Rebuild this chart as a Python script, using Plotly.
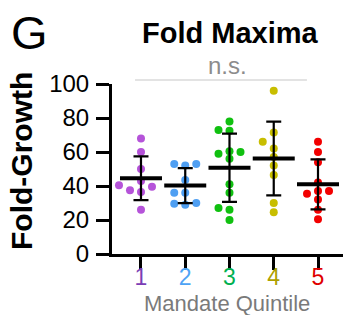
import numpy as np
import plotly.graph_objects as go

# ---------------- data ----------------
quintiles = [1, 2, 3, 4, 5]
tick_labels = ["1", "2", "3", "4", "5"]
q1 = [68, 60, 50, 43, 39.5, 40.5, 37.5, 36.5, 26]
q2 = [53, 53, 52, 43.5, 36, 36, 29, 29.5, 30]
q3 = [78, 72.5, 73, 60, 59, 60.5, 56, 41, 36, 27, 26, 20]
q4 = [96, 71.5, 66, 62, 57, 52, 46.5, 30, 24.5]
q5 = [66, 60, 54, 42, 37, 37, 35.5, 32, 26, 20.5]
groups = [q1, q2, q3, q4, q5]

dot_colors = ["#B553D9", "#4F9FF2", "#10C010", "#C8BE00", "#F20000"]
label_colors = ["#7B3DB5", "#4DA3F5", "#00B050", "#ADA000", "#E00000"]

FONT = "Liberation Sans, Arial, sans-serif"

W, H = 349, 315
ML, MR, MT, MB = 112, 6, 84, 61
XR = [0.345, 5.565]
YR = [0, 100]
pw = W - ML - MR
ph = H - MT - MB
px_per_x = pw / (XR[1] - XR[0])
px_per_y = ph / (YR[1] - YR[0])


def swarm(values, step_px=11.0, min_dist=7.5):
    """Deterministic beeswarm offsets (in x data units)."""
    order = np.argsort(values)
    placed = []
    offs = np.zeros(len(values))
    cands = [0]
    for k in range(1, 8):
        cands += [-k, k]
    for i in order:
        yp = values[i] * px_per_y
        for c in cands:
            xp = c * step_px
            if all((xp - a) ** 2 + (yp - b) ** 2 >= min_dist ** 2 for a, b in placed):
                placed.append((xp, yp))
                offs[i] = xp / px_per_x
                break
    return offs


fig = go.Figure()

for q, vals, col in zip(quintiles, groups, dot_colors):
    v = np.array(vals, dtype=float)
    off = swarm(v)
    fig.add_trace(go.Scatter(
        x=q + off, y=v, mode="markers",
        marker=dict(size=8, color=col, line=dict(width=0)),
        showlegend=False, hoverinfo="y", cliponaxis=False,
    ))

for q, vals in zip(quintiles, groups):
    v = np.array(vals, dtype=float)
    fig.add_trace(go.Scatter(
        x=[q], y=[v.mean()], mode="markers",
        marker=dict(symbol="line-ew", size=30, color="black",
                    line=dict(width=4, color="black")),
        error_y=dict(type="data", array=[v.std(ddof=1)], visible=True,
                     color="black", thickness=2.2, width=7.5),
        showlegend=False, hoverinfo="y", cliponaxis=False,
    ))

ticktext = [f'<span style="color:{c}">{t}</span>' for t, c in zip(tick_labels, label_colors)]

fig.update_layout(
    width=W, height=H,
    margin=dict(l=ML, r=MR, t=MT, b=MB, autoexpand=False),
    plot_bgcolor="white", paper_bgcolor="white",
    font=dict(family=FONT, color="black"),
    xaxis=dict(range=XR, tickmode="array", tickvals=quintiles, ticktext=ticktext,
               showgrid=False, zeroline=False, showline=True, linecolor="black",
               linewidth=3, ticks="outside", ticklen=13, tickwidth=3,
               tickcolor="black", tickfont=dict(size=23, family=FONT),
               ticklabelstandoff=-13),
    yaxis=dict(range=YR, tickmode="array", tickvals=[0, 20, 40, 60, 80, 100],
               showgrid=False, zeroline=False, showline=True, linecolor="black",
               linewidth=3, ticks="outside", ticklen=13, tickwidth=3,
               tickcolor="black", tickfont=dict(size=24, family=FONT),
               ticklabelstandoff=2),
    shapes=[dict(type="line", xref="paper", yref="paper",
                 x0=(0.865 - XR[0]) / (XR[1] - XR[0]), x1=(4.75 - XR[0]) / (XR[1] - XR[0]),
                 y0=1.0235, y1=1.0235, line=dict(color="#C8C8C8", width=1.2))],
    annotations=[
        dict(text="G", xref="paper", yref="paper", x=(29 - ML) / pw, y=(H - MB - 33) / ph,
             showarrow=False, xanchor="center", yanchor="middle",
             font=dict(size=47, family=FONT, color="black")),
        dict(text="<b>Fold Maxima</b>", xref="paper", yref="paper",
             x=(230 - ML) / pw, y=(H - MB - 33) / ph, showarrow=False,
             xanchor="center", yanchor="middle",
             font=dict(size=29, family=FONT, color="black")),
        dict(text="n.s.", xref="paper", yref="paper",
             x=(227 - ML) / pw, y=(H - MB - 66) / ph, showarrow=False,
             xanchor="center", yanchor="middle",
             font=dict(size=24, family=FONT, color="#8C8C8C")),
        dict(text="<b>Fold-Growth</b>", xref="paper", yref="paper",
             x=(21 - ML) / pw, y=(H - MB - 161) / ph, showarrow=False,
             xanchor="center", yanchor="middle", textangle=-90,
             font=dict(size=30, family=FONT, color="black")),
        dict(text="Mandate Quintile", xref="paper", yref="paper",
             x=(227 - ML) / pw, y=(H - MB - 303) / ph, showarrow=False,
             xanchor="center", yanchor="middle",
             font=dict(size=22, family=FONT, color="#7A7A7A")),
    ],
)

fig.write_html("out.html", config={"displayModeBar": False},
               post_script="document.body.style.margin='0';document.body.style.overflow='hidden';")
